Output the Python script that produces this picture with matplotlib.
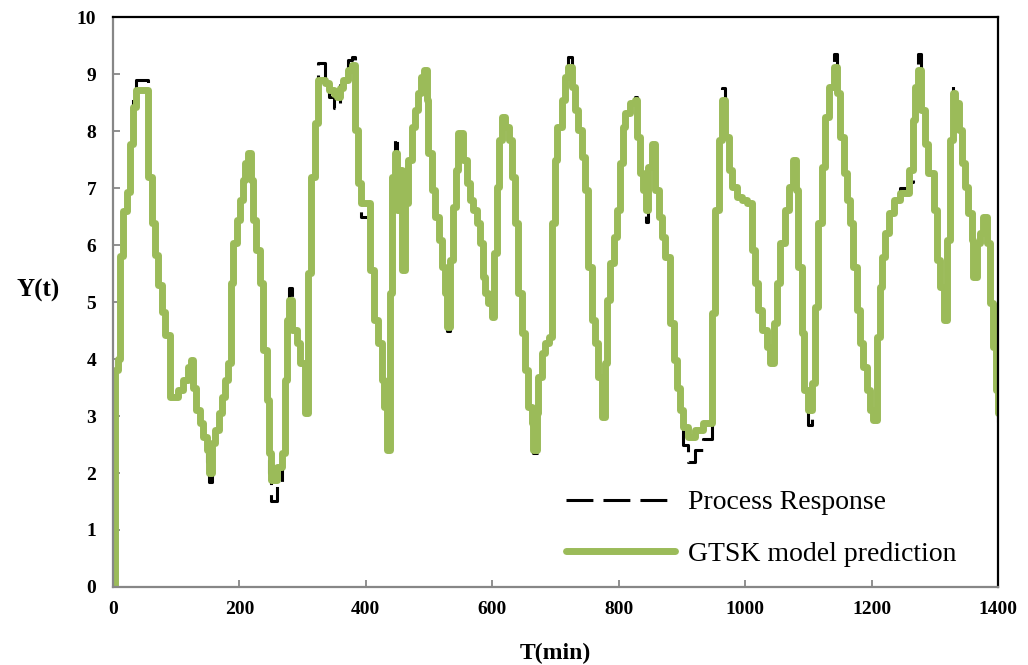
import matplotlib
matplotlib.use('Agg')
import matplotlib.pyplot as plt

# sample times (min) where the staircase changes value
t_min = [0, 3, 8, 11, 16, 22, 27, 32, 37, 56, 61, 66, 72, 77, 82, 90, 103, 111, 119, 123,
         127, 132, 138, 143, 148, 152, 156, 161, 167, 172, 177, 182, 187, 190, 196, 201, 205, 209, 213, 218,
         222, 227, 233, 238, 243, 247, 250, 259, 267, 272, 275, 278, 283, 291, 296, 304, 309, 314, 320, 325,
         335, 342, 349, 354, 359, 364, 372, 378, 383, 388, 393, 407, 413, 420, 425, 428, 433, 438, 442, 446,
         449, 453, 457, 462, 467, 473, 478, 483, 487, 492, 496, 499, 504, 510, 515, 520, 525, 529, 533, 538,
         543, 546, 554, 560, 565, 570, 576, 581, 585, 589, 594, 599, 603, 607, 611, 615, 620, 626, 631, 636,
         641, 647, 652, 657, 663, 665, 670, 673, 678, 684, 689, 694, 699, 703, 710, 715, 720, 726, 731, 736,
         742, 747, 752, 757, 763, 768, 773, 779, 781, 786, 792, 797, 802, 807, 810, 818, 826, 829, 834, 839,
         843, 847, 852, 858, 863, 868, 873, 881, 887, 892, 897, 902, 910, 921, 934, 947, 953, 958, 963, 968,
         974, 979, 987, 995, 1003, 1011, 1016, 1021, 1026, 1034, 1040, 1045, 1050, 1055, 1063, 1069, 1076, 1081, 1084, 1090,
         1093, 1100, 1106, 1111, 1116, 1121, 1127, 1132, 1140, 1145, 1150, 1156, 1161, 1166, 1171, 1177, 1182, 1187, 1193, 1198,
         1203, 1208, 1214, 1216, 1222, 1227, 1235, 1245, 1260, 1265, 1269, 1274, 1278, 1285, 1290, 1298, 1303, 1309, 1315, 1319,
         1324, 1329, 1332, 1338, 1343, 1348, 1353, 1359, 1361, 1367, 1372, 1377, 1382, 1387, 1392, 1397, 1400]

# GTSK model prediction
y_model = [0.0, 3.8, 4.0, 5.8, 6.6, 6.93, 7.78, 8.42, 8.72, 7.2, 6.38, 5.82, 5.3, 4.83, 4.42, 3.33, 3.45, 3.63, 3.86, 3.98,
           3.5, 3.1, 2.87, 2.63, 2.4, 2.0, 2.52, 2.75, 3.05, 3.33, 3.63, 3.93, 5.33, 6.03, 6.44, 6.79, 7.14, 7.44, 7.61, 7.14,
           6.44, 5.91, 5.33, 4.16, 3.28, 2.35, 1.88, 2.1, 2.35, 3.63, 4.68, 5.04, 4.51, 4.28, 3.93, 3.05, 5.51, 7.2, 8.14, 8.89,
           8.84, 8.72, 8.65, 8.6, 8.75, 8.9, 9.07, 9.16, 8.02, 7.09, 6.73, 5.56, 4.68, 4.28, 3.63, 3.16, 2.4, 5.16, 7.2, 7.61,
           6.61, 7.32, 5.56, 6.73, 7.49, 8.07, 8.37, 8.67, 8.95, 9.07, 8.54, 7.61, 6.96, 6.49, 6.09, 5.61, 5.16, 4.56, 5.74, 6.67,
           7.32, 7.96, 7.49, 7.09, 6.79, 6.61, 6.38, 6.03, 5.44, 5.16, 4.98, 4.74, 5.86, 7.02, 7.84, 8.25, 8.07, 7.84, 7.2, 6.38,
           5.16, 4.46, 3.81, 3.16, 2.87, 2.4, 3.05, 3.68, 4.1, 4.28, 4.39, 6.38, 7.5, 8.07, 8.54, 8.95, 9.12, 8.77, 8.37, 8.02,
           7.54, 6.96, 5.61, 4.68, 4.28, 3.68, 2.98, 3.93, 5.04, 5.68, 6.14, 6.61, 7.44, 8.07, 8.32, 8.49, 8.54, 7.89, 7.26, 6.96,
           6.61, 7.37, 7.78, 6.96, 6.49, 6.14, 5.79, 4.63, 3.98, 3.5, 3.1, 2.81, 2.63, 2.75, 2.87, 4.81, 6.61, 7.84, 8.54, 7.89,
           7.32, 7.02, 6.84, 6.79, 6.73, 5.91, 5.33, 4.86, 4.51, 4.21, 3.93, 4.63, 5.33, 6.03, 6.61, 7.02, 7.49, 6.96, 5.61, 4.46,
           3.46, 3.1, 3.58, 4.91, 6.38, 7.37, 8.25, 8.77, 9.12, 8.67, 7.89, 7.26, 6.79, 6.38, 5.61, 4.86, 4.28, 3.86, 3.46, 3.1,
           2.93, 4.39, 5.26, 5.79, 6.21, 6.56, 6.79, 6.91, 7.32, 8.19, 8.77, 9.07, 8.37, 7.78, 7.26, 6.61, 5.74, 5.26, 4.68, 6.09,
           7.84, 8.67, 8.49, 8.02, 7.44, 7.02, 6.56, 6.09, 5.44, 6.03, 6.21, 6.49, 6.03, 4.98, 4.21, 3.46, 3.05]

# measured process response (mostly hidden under the prediction)
y_resp = [0.0, 3.8, 4.0, 5.8, 6.6, 6.93, 7.78, 8.6, 8.9, 7.2, 6.38, 5.82, 5.3, 4.83, 4.42, 3.33, 3.45, 3.63, 3.86, 3.98,
          3.5, 3.1, 2.87, 2.63, 2.2, 1.85, 2.52, 2.75, 3.05, 3.33, 3.63, 3.93, 5.33, 6.03, 6.44, 6.79, 7.14, 7.44, 7.61, 7.14,
          6.44, 5.91, 5.33, 4.16, 3.28, 2.0, 1.5, 1.8, 2.35, 3.63, 4.68, 5.25, 4.51, 4.28, 3.93, 3.05, 5.51, 7.2, 8.14, 9.2,
          8.9, 8.6, 8.4, 8.45, 8.8, 9.0, 9.25, 9.3, 8.02, 7.09, 6.5, 5.56, 4.68, 4.28, 3.63, 3.16, 2.4, 5.16, 7.2, 7.9,
          6.61, 7.32, 5.56, 6.73, 7.49, 8.07, 8.37, 8.67, 8.95, 9.07, 8.54, 7.61, 6.96, 6.49, 6.09, 5.61, 5.16, 4.5, 5.74, 6.67,
          7.32, 7.96, 7.49, 7.09, 6.79, 6.61, 6.38, 6.03, 5.44, 5.16, 4.98, 4.74, 5.86, 7.02, 7.84, 8.25, 8.07, 7.84, 7.2, 6.38,
          5.16, 4.46, 3.81, 3.16, 2.87, 2.35, 3.05, 3.68, 4.1, 4.28, 4.39, 6.38, 7.5, 8.07, 8.54, 8.95, 9.3, 8.77, 8.37, 8.02,
          7.54, 6.96, 5.61, 4.68, 4.28, 3.68, 2.98, 3.93, 5.04, 5.68, 6.14, 6.61, 7.44, 8.07, 8.32, 8.49, 8.6, 7.89, 7.26, 6.96,
          6.4, 7.37, 7.78, 6.96, 6.49, 6.14, 5.79, 4.63, 3.98, 3.5, 3.1, 2.5, 2.2, 2.4, 2.6, 4.81, 6.61, 7.84, 8.75, 7.89,
          7.32, 7.02, 6.84, 6.79, 6.73, 5.91, 5.33, 4.86, 4.51, 4.21, 3.93, 4.63, 5.33, 6.03, 6.61, 7.02, 7.49, 6.96, 5.61, 4.46,
          3.46, 2.85, 3.58, 4.91, 6.38, 7.37, 8.25, 8.77, 9.35, 8.67, 7.89, 7.26, 6.79, 6.38, 5.61, 4.86, 4.28, 3.86, 3.46, 3.1,
          2.93, 4.39, 5.26, 5.79, 6.21, 6.56, 6.79, 7.0, 7.1, 8.19, 8.77, 9.35, 8.37, 7.78, 7.26, 6.61, 5.74, 5.26, 4.68, 6.09,
          7.84, 8.8, 8.49, 8.02, 7.44, 7.02, 6.56, 6.09, 5.44, 6.03, 6.21, 6.49, 6.03, 4.98, 4.21, 3.46, 2.9]

x_ticks = [0, 200, 400, 600, 800, 1000, 1200, 1400]
y_ticks = [0, 1, 2, 3, 4, 5, 6, 7, 8, 9, 10]

green = '#9bbb59'
grey = '#878787'
serif = ['Liberation Serif', 'DejaVu Serif']

fig = plt.figure(figsize=(10.28, 6.65), dpi=100)
ax = fig.add_axes([0.1099, 0.1173, 0.8609, 0.8571])

ax.plot(t_min, y_resp, drawstyle='steps-post', color='black', lw=2.2,
        dashes=(8.8, 3.3), label='Process Response')
ax.plot(t_min, y_model, drawstyle='steps-post', color=green, lw=5,
        solid_capstyle='round', label='GTSK model prediction')

ax.set_xlim(0, 1400)
ax.set_ylim(0, 10)
ax.set_xticks(x_ticks)
ax.set_yticks(y_ticks)

#坐标轴样式：左下灰色，上右黑色
ax.spines['left'].set_color(grey)
ax.spines['bottom'].set_color(grey)
ax.spines['top'].set_color('black')
ax.spines['right'].set_color('black')
for s in ax.spines.values():
    s.set_linewidth(1.6)

ax.tick_params(direction='in', length=5, width=1.3, color=grey)
ax.tick_params(axis='y', pad=12)
ax.tick_params(axis='x', pad=10)
for lab in ax.get_xticklabels() + ax.get_yticklabels():
    lab.set_family(serif)
    lab.set_fontweight('bold')
    lab.set_fontsize(14)

ax.set_xlabel('T(min)', family=serif, fontweight='bold', fontsize=17, labelpad=18)
ax.set_ylabel('Y(t)', family=serif, fontweight='bold', fontsize=18, rotation=0,
              labelpad=0)
ax.yaxis.set_label_coords(-0.085, 0.5)

leg = ax.legend(loc='upper left', bbox_to_anchor=(0.499, 0.19), frameon=False,
                prop={'family': serif, 'size': 20}, handlelength=3.95,
                handletextpad=0.45, labelspacing=0.95, borderaxespad=0)

fig.savefig('out.png', dpi=100)
